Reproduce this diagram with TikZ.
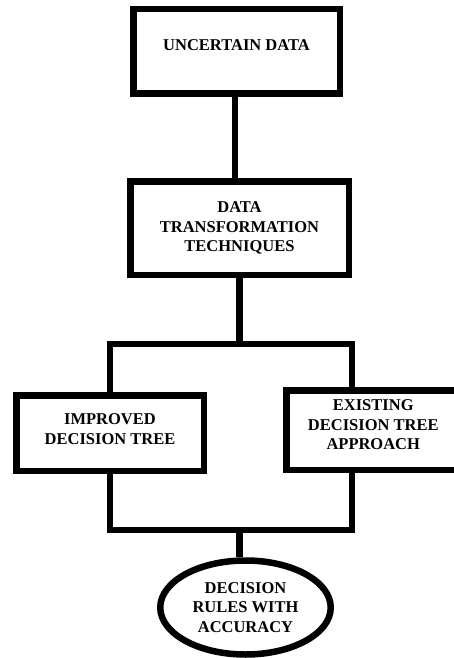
\documentclass[tikz,border=0pt]{standalone}
\usepackage{fontspec}
\setmainfont{Liberation Serif}
\usetikzlibrary{positioning, shapes.geometric, calc}

\begin{document}
\begin{tikzpicture}[x=1pt, y=-1pt,
  font=\fontsize{16.5}{19.5}\selectfont\bfseries,
  box/.style={draw, line width=6.5pt, fill=white, align=center, inner sep=0pt},
  joint/.style={line width=6.5pt}]
\useasboundingbox (0,0) rectangle (454,658);

% boxes
\node[box, minimum width=206.5pt, minimum height=84.5pt, text depth=12pt] (data) at (236.5, 51.5) {UNCERTAIN DATA};
\node[box, minimum width=218.5pt, minimum height=93.5pt] (trans) at (239.5, 228) {DATA\\TRANSFORMATION\\TECHNIQUES};
\node[box, minimum width=187.5pt, minimum height=75.5pt, text depth=8pt] (improved) at (110, 433) {IMPROVED\\DECISION TREE};
\node[box, minimum width=174pt, minimum height=79.5pt, text depth=10pt] (existing) at (373.25, 430) {EXISTING\\DECISION TREE\\APPROACH};
\node[box, ellipse, minimum width=170.5pt, minimum height=94pt] (rules) at (245.5, 607.5) {DECISION\\RULES WITH\\ACCURACY};

% split and merge bars
\coordinate (splitL) at (110, 344);
\coordinate (splitR) at (352, 344);
\coordinate (mergeL) at (110, 530);
\coordinate (mergeR) at (352, 530);

\draw[joint] (data.south -| 235,0) -- (trans.north -| 235,0);
\draw[joint] (trans.south) -- (trans.south |- splitL);
\draw[joint] (improved.north) -- (splitL) -- (splitR) -- (splitR |- existing.north);
\draw[joint] (improved.south) -- (mergeL) -- (mergeR) -- (mergeR |- existing.south);
\draw[joint] (mergeL -| trans.south) -- (rules.north -| trans.south);
\end{tikzpicture}
\end{document}
